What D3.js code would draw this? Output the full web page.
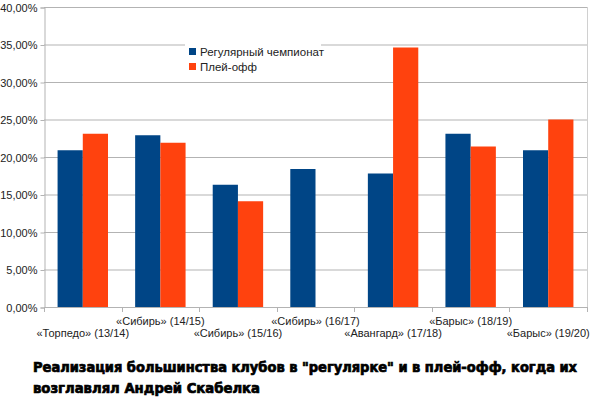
<!DOCTYPE html>
<html>
<head>
<meta charset="utf-8">
<script src="https://cdn.jsdelivr.net/npm/d3@7"></script>
<style>
  html, body { margin: 0; padding: 0; background: #fff; }
  svg { display: block; }
</style>
</head>
<body>
<figure id="bar" style="margin:0"></figure>
<script>
// chart data
const clubs = ["«Торпедо» (13/14)", "«Сибирь» (14/15)", "«Сибирь» (15/16)", "«Сибирь» (16/17)",
  "«Авангард» (17/18)", "«Барыс» (18/19)", "«Барыс» (19/20)"];
const seriesNames = ["Регулярный чемпионат", "Плей-офф"];
const regular = [20.9, 22.9, 16.3, 18.4, 17.8, 23.1, 20.9];
const playoff = [23.1, 21.9, 14.1, 0, 34.6, 21.4, 25.0];
const yTicks = [0, 5, 10, 15, 20, 25, 30, 35, 40];
const titleLines = ["Реализация большинства клубов в \"регулярке\" и в плей-офф, когда их",
  "возглавлял Андрей Скабелка"];

const colors = ["#004586", "#ff420e"];
const W = 600, H = 398;
const plot = {left: 44, right: 587, top: 7, bottom: 307};

const svg = d3.select("figure#bar")
  .append("svg")
  .attr("width", W)
  .attr("height", H)
  .style("font-family", "'Liberation Sans', Arial, sans-serif");

svg.append("rect").attr("width", W).attr("height", H).attr("fill", "#fff");

// scales
const x0 = d3.scaleBand()
  .domain(clubs)
  .range([plot.left, plot.right])
  .padding(0);

const x1 = d3.scaleBand()
  .domain(seriesNames)
  .range([x0.bandwidth() * 0.175, x0.bandwidth() * 0.825])
  .padding(0);

const y = d3.scaleLinear()
  .domain([0, 40])
  .range([plot.bottom, plot.top]);

// grid lines
svg.append("g")
  .selectAll("line")
  .data(yTicks)
  .enter()
  .append("line")
  .attr("x1", plot.left)
  .attr("x2", plot.right)
  .attr("y1", d => y(d) + 0.5)
  .attr("y2", d => y(d) + 0.5)
  .attr("stroke", "#b3b3b3");

// right border
svg.append("line")
  .attr("x1", plot.right + 0.5).attr("x2", plot.right + 0.5)
  .attr("y1", plot.top).attr("y2", plot.bottom)
  .attr("stroke", "#d0d0d0");

// Y axis
const yAxis = svg.append("g")
  .attr("transform", "translate(" + (plot.left + 0.5) + ",0.5)")
  .call(d3.axisLeft(y).tickValues(yTicks).tickSize(4).tickPadding(3)
    .tickFormat(d => d3.format(".2f")(d).replace(".", ",") + "%"));
yAxis.select(".domain").attr("stroke", "#b3b3b3");
yAxis.selectAll(".tick line").attr("stroke", "#b3b3b3");
yAxis.selectAll("text")
  .attr("fill", "#222")
  .style("font-size", "11px")
  .style("font-family", "'Liberation Sans', Arial, sans-serif");

// X axis: ticks at category boundaries
const bounds = clubs.map(c => x0(c)).concat([plot.right]);
svg.append("g")
  .selectAll("line")
  .data(bounds)
  .enter()
  .append("line")
  .attr("x1", d => Math.round(d) + 0.5)
  .attr("x2", d => Math.round(d) + 0.5)
  .attr("y1", plot.bottom)
  .attr("y2", plot.bottom + 5)
  .attr("stroke", "#b3b3b3");

svg.append("line")
  .attr("x1", plot.left).attr("x2", plot.right)
  .attr("y1", plot.bottom + 0.5).attr("y2", plot.bottom + 0.5)
  .attr("stroke", "#b3b3b3");

svg.append("g")
  .selectAll("text")
  .data(clubs)
  .enter()
  .append("text")
  .attr("x", d => x0(d) + x0.bandwidth() / 2)
  .attr("y", (d, i) => i % 2 === 0 ? 337 : 325)
  .attr("text-anchor", "middle")
  .attr("fill", "#222")
  .style("font-size", "11px")
  .text(d => d);

// bars
const rows = clubs.map((c, i) => ({club: c, values: [regular[i], playoff[i]]}));
const groups = svg.append("g")
  .selectAll("g")
  .data(rows)
  .enter()
  .append("g")
  .attr("transform", d => "translate(" + x0(d.club) + ",0)");

groups.selectAll("rect")
  .data(d => d.values.map((v, k) => ({key: seriesNames[k], value: v, k: k})))
  .enter()
  .append("rect")
  .attr("x", d => x1(d.key))
  .attr("y", d => y(d.value))
  .attr("width", x1.bandwidth())
  .attr("height", d => plot.bottom - y(d.value))
  .attr("fill", d => colors[d.k]);

// legend
const legend = svg.append("g");
legend.append("rect")
  .attr("x", 185).attr("y", 39)
  .attr("width", 136).attr("height", 37)
  .attr("fill", "#fff");
seriesNames.forEach((name, i) => {
  legend.append("rect")
    .attr("x", 189).attr("y", 48 + i * 15)
    .attr("width", 7).attr("height", 7)
    .attr("fill", colors[i]);
  legend.append("text")
    .attr("x", 200).attr("y", 55.5 + i * 15)
    .attr("fill", "#222")
    .style("font-size", "11.5px")
    .text(name);
});

// title
svg.append("g")
  .selectAll("text")
  .data(titleLines)
  .enter()
  .append("text")
  .attr("x", 33)
  .attr("y", (d, i) => 372 + i * 21)
  .attr("textLength", (d, i) => i === 0 ? 544 : 227)
  .attr("lengthAdjust", "spacingAndGlyphs")
  .attr("fill", "#000")
  .attr("stroke", "#000")
  .attr("stroke-width", 0.7)
  .style("font-family", "Impact, 'DejaVu Sans Condensed', 'DejaVu Sans', sans-serif")
  .style("font-stretch", "condensed")
  .style("font-weight", "bold")
  .style("font-size", "14.5px")
  .text(d => d);
</script>
</body>
</html>
